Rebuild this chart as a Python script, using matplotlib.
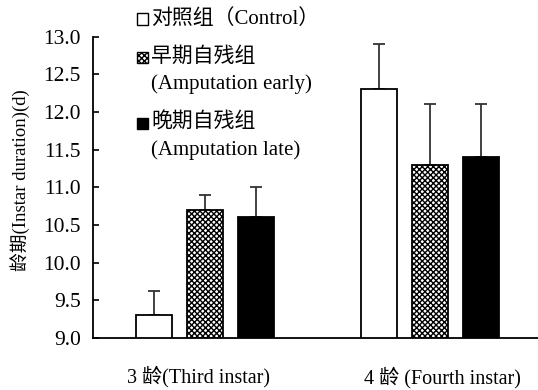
import numpy as np
import matplotlib.pyplot as plt
from matplotlib.patches import Rectangle
from matplotlib.transforms import blended_transform_factory

# ---- dados ----
groups = ["3 龄(Third instar)", "4 龄 (Fourth instar)"]
control = [9.3, 12.3]
control_err = [0.32, 0.6]
early = [10.7, 11.3]
early_err = [0.2, 0.8]
late = [10.6, 11.4]
late_err = [0.4, 0.7]
series_names = ["对照组（Control）", "早期自残组\n(Amputation early)", "晚期自残组\n(Amputation late)"]
yticks = [9.0, 9.5, 10.0, 10.5, 11.0, 11.5, 12.0, 12.5, 13.0]

FONT = ["Liberation Serif", "Noto Sans CJK SC"]
plt.rcParams["font.family"] = FONT
plt.rcParams["hatch.linewidth"] = 1.0

W, H = 538, 390
fig = plt.figure(figsize=(W / 100, H / 100), dpi=100)
ax = fig.add_axes([93.3 / W, 1 - 338 / H, 1 - 93.3 / W, (338 - 36.7) / H])

x = np.arange(len(groups))
off = 0.2267
bw = 0.16
styles = [
    dict(facecolor="white", hatch=None),
    dict(facecolor="white", hatch="xxxxxx"),
    dict(facecolor="black", hatch=None),
]
vals = [control, early, late]
errs = [control_err, early_err, late_err]

for i, (v, e, st) in enumerate(zip(vals, errs, styles)):
    xi = x + (i - 1) * off
    ax.bar(xi, np.array(v) - 9.0, bottom=9.0, width=bw, edgecolor="black",
           linewidth=1.3, zorder=3, **st)
    ax.errorbar(xi, v, yerr=[np.zeros(len(e)), e], fmt="none", ecolor="#333333",
                elinewidth=1.3, capsize=4.2, capthick=1.3, zorder=2)

ax.set_xlim(-0.4964, 1.48)
ax.set_ylim(9.0, 13.0)
ax.set_yticks(yticks)
ax.set_yticklabels([f"{t:.1f}" for t in yticks], fontsize=15.5)
ax.tick_params(axis="y", direction="in", length=4, width=1.2, pad=9)
ax.set_xticks([])
for s in ("top", "right"):
    ax.spines[s].set_visible(False)
for s in ("left", "bottom"):
    ax.spines[s].set_linewidth(1.3)

# ---- rotulos das categorias ----
trans = blended_transform_factory(ax.transData, ax.transAxes)
lab_dx = [-0.03, 0.056]
lab_y = [-0.128, -0.131]
for xi, g, dx, yy in zip(x, groups, lab_dx, lab_y):
    ax.text(xi + dx, yy, g, transform=trans, ha="center", va="center", fontsize=14.5)

fig.text(20 / W, 1 - 180 / H, "龄期(Instar duration)(d)", rotation=90,
         ha="center", va="center", fontsize=13.5)

# ---- legenda manual ----
leg_y = [19, 57, 123]
for (yy, st, name) in zip(leg_y, styles, series_names):
    fig.patches.append(Rectangle((137 / W, 1 - (yy + 5.5) / H), 11 / W, 11 / H,
                                 transform=fig.transFigure, edgecolor="black",
                                 linewidth=1.0, **st))
    lines = name.split("\n")
    fig.text(151 / W, 1 - yy / H, lines[0], ha="left", va="center", fontsize=15)
    if len(lines) > 1:
        fig.text(151 / W, 1 - (yy + 27) / H, lines[1], ha="left", va="center",
                 fontsize=15)

fig.savefig("out.png", dpi=100)
